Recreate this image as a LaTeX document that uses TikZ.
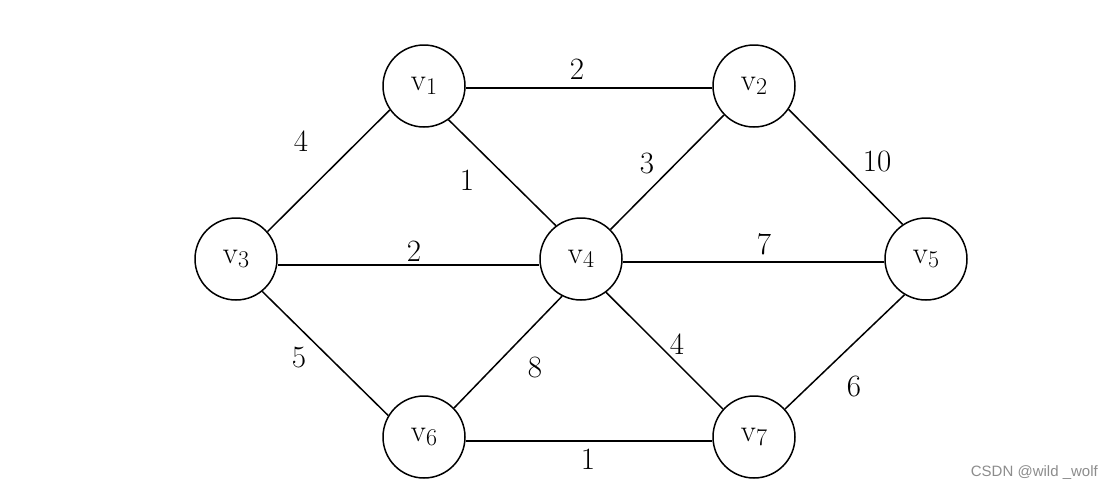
\documentclass[tikz,border=0pt]{standalone}
\usepackage{fontspec}
\newfontfamily\wmfont{Liberation Sans}
\newcommand{\vsub}[1]{v\raisebox{-4.5pt}{\fontsize{24}{28}\selectfont #1}}
\begin{document}
\begin{tikzpicture}[x=1pt,y=-1pt,
  vert/.style={circle,draw,line width=1.5pt,minimum size=82pt,inner sep=0pt,font=\fontsize{31}{36}\selectfont},
  edge/.style={line width=1.5pt},
  wt/.style={font=\fontsize{31}{36}\selectfont,inner sep=0pt}]
\useasboundingbox (0,0) rectangle (1114,490);
\node[vert] (v1) at (424,86) {\vsub{1}};
\node[vert] (v2) at (754,86) {\vsub{2}};
\node[vert] (v3) at (236,259) {\vsub{3}};
\node[vert] (v4) at (581,259) {\vsub{4}};
\node[vert] (v5) at (926,259) {\vsub{5}};
\node[vert] (v6) at (424,437) {\vsub{6}};
\node[vert] (v7) at (754,437) {\vsub{7}};
\draw[edge] ([yshift=-2pt]v1.east) -- ([yshift=-2pt]v2.west);
\draw[edge] (v1.215) -- (v3.41);
\draw[edge] (v1.306) -- (v4.127);
\draw[edge] (v2.224) -- (v4.45);
\draw[edge] (v2.326) -- (v5.124);
\draw[edge] ([yshift=-6pt]v3.east) -- ([yshift=-6pt]v4.west);
\draw[edge] ([yshift=-3pt]v4.east) -- ([yshift=-3pt]v5.west);
\draw[edge] (v3.309) -- (v6.149);
\draw[edge] (v4.243) -- (v6.44);
\draw[edge] (v4.307) -- (v7.138);
\draw[edge] (v5.239) -- (v7.42);
\draw[edge] ([yshift=-4pt]v6.east) -- ([yshift=-4pt]v7.west);
\node[wt] (w12) at (577,69) {2};
\node[wt] (w13) at (301,141) {4};
\node[wt] (w14) at (467,180) {1};
\node[wt] (w24) at (647,163) {3};
\node[wt] (w25) at (877,161) {10};
\node[wt] (w34) at (414,251) {2};
\node[wt] (w45) at (764,244) {7};
\node[wt] (w36) at (299,358) {5};
\node[wt] (w46) at (535,367) {8};
\node[wt] (w47) at (677,344) {4};
\node[wt] (w57) at (854,386) {6};
\node[wt] (w67) at (588,459) {1};
\node[font=\wmfont\fontsize{15}{17}\selectfont,text=black!45,anchor=east,inner sep=0pt] (wm) at (1098,473) {CSDN @wild \_wolf};
\end{tikzpicture}
\end{document}
